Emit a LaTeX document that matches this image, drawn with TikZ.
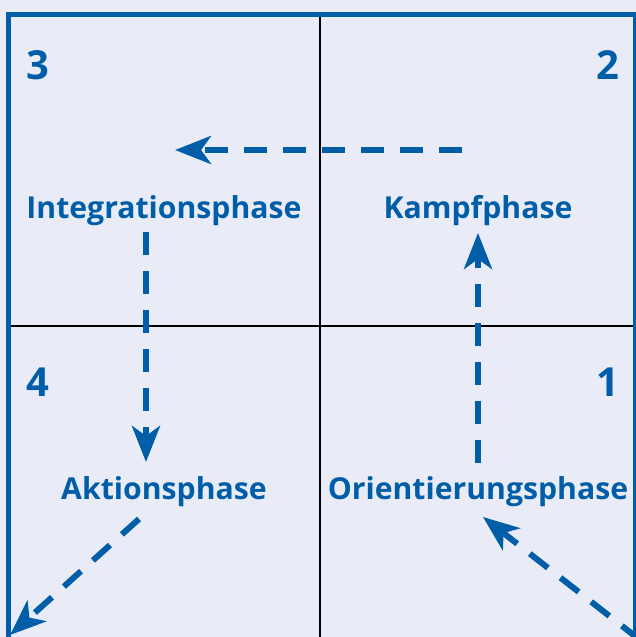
\documentclass[tikz,border=0pt]{standalone}
\usepackage{fontspec}
\setmainfont{Open Sans}
\usetikzlibrary{arrows.meta}
\definecolor{bg}{RGB}{233,236,246}
\definecolor{phblue}{RGB}{0,94,168}
\tikzset{
  phase/.style={text=phblue,font=\fontsize{30.2}{33}\selectfont\bfseries,anchor=base,inner sep=0pt},
  num/.style={text=phblue,font=\fontsize{40}{44}\selectfont\bfseries,anchor=base,inner sep=0pt},
  flow/.style={draw=phblue,line width=6pt,dash pattern=on 23pt off 16pt,
    -{Stealth[length=36pt,width=28pt,inset=10pt]}},
  grid/.style={draw=black,line width=2pt},
}
\begin{document}
\begin{tikzpicture}[x=1pt,y=-1pt]
\useasboundingbox (0,0) rectangle (636,637);
\fill[bg] (0,0) rectangle (636,637);
% grid
\draw[grid] (320,17) -- (320,637);
\draw[grid] (11,325.5) -- (633,325.5);
% frame
\draw[draw=phblue,line width=3pt] (634.5,12) -- (634.5,637);
\draw[draw=phblue,line width=5pt] (8.5,637) -- (8.5,14.5) -- (636,14.5);
% numbers
\node[num] (n3) at (37.5,79) {3};
\node[num] (n2) at (607.5,79) {2};
\node[num] (n4) at (37.5,396) {4};
\node[num] (n1) at (607.5,396) {1};
% phases
\node[phase] (integ) at (164,218) {Integrationsphase};
\node[phase] (kampf) at (478,218) {Kampfphase};
\node[phase] (aktion) at (164,499) {Aktionsphase};
\node[phase] (orient) at (478,499) {Orientierungsphase};
% arrow end points
\coordinate (a1s) at (462,150);
\coordinate (a1e) at (175,150);
\coordinate (a2s) at (478,463);
\coordinate (a2e) at (478,233);
\coordinate (a3s) at (146,232);
\coordinate (a3e) at (146,462);
\coordinate (a4s) at (139,519);
\coordinate (a4e) at (10,635);
\coordinate (a5s) at (640,640);
\coordinate (a5e) at (483,517);
\begin{scope}
\clip (0,0) rectangle (636,637);
\draw[flow] (a1s) -- (a1e);
\draw[flow] (a2s) -- (a2e);
\draw[flow] (a3s) -- (a3e);
\draw[flow] (a4s) -- (a4e);
\draw[flow] (a5s) -- (a5e);
\end{scope}
\end{tikzpicture}
\end{document}
